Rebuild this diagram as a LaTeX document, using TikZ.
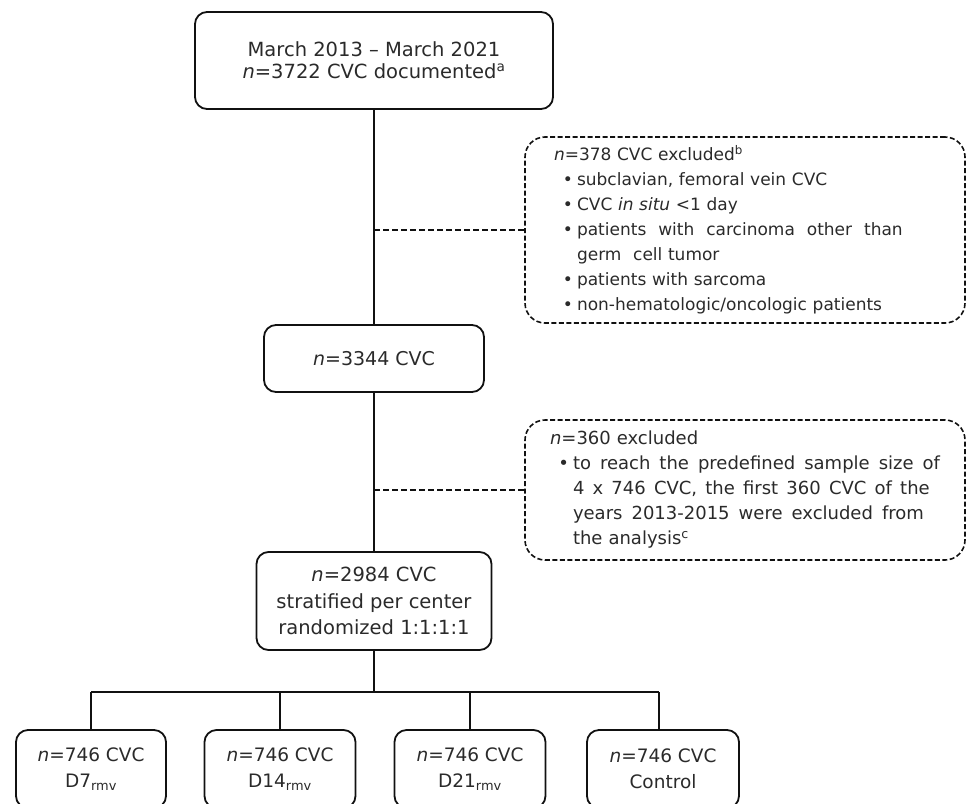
\documentclass[tikz,border=0pt]{standalone}
\usepackage{fontspec}
\setmainfont{DejaVu Sans}
\definecolor{linecol}{HTML}{111111}
\definecolor{txt}{HTML}{2a2a2a}
\newcommand{\bul}{\makebox[23pt][r]{\textbullet\hspace{4pt}}}
\newcommand{\nob}{\hspace*{23pt}}
\newcommand{\wsp}{\hspace{0pt plus 1fil}}
\begin{document}
\begin{tikzpicture}[x=1pt,y=-1pt,
  box/.style={draw=linecol, line width=1.8pt, rounded corners=12pt, align=center, text=txt,
    font=\fontsize{18.5}{26}\selectfont, inner sep=0pt},
  exbox/.style={draw=linecol, line width=1.6pt, dash pattern=on 5pt off 2.5pt, rounded corners=20pt,
    align=left, text=txt, font=\fontsize{17}{25}\selectfont, inner xsep=29pt, inner ysep=0pt,
    minimum width=440pt, text width=382pt},
  conn/.style={draw=linecol, line width=1.8pt},
  dconn/.style={conn, dash pattern=on 6pt off 3pt}]
\useasboundingbox (0,0) rectangle (973,803);

\node[box, minimum width=358pt, minimum height=97pt, font=\fontsize{19.5}{22}\selectfont] (top) at (374,60.5)
  {March 2013 – March 2021\\\textit{n}=3722 CVC documented\textsuperscript{a}};

\node[exbox, minimum height=186pt] (ex1) at (745,230)
  {\textit{n}=378 CVC excluded\textsuperscript{b}\\
   \bul subclavian, femoral vein CVC\\
   \bul CVC \textit{in situ} <1 day\\
   \bul \makebox[332pt][l]{patients \wsp with \wsp carcinoma \wsp other \wsp than}\\
   \nob germ\hspace{6pt} cell tumor\\
   \bul patients with sarcoma\\
   \bul non-hematologic/oncologic patients};

\node[box, minimum width=220pt, minimum height=67pt, font=\fontsize{19}{26}\selectfont] (b3344) at (374,358.5) {\textit{n}=3344 CVC};

\node[exbox, minimum height=140pt, font=\fontsize{18}{25}\selectfont, inner xsep=25pt, text width=390pt] (ex2) at (745,490)
  {\textit{n}=360 excluded\\
   \bul \makebox[370pt][l]{to \wsp reach \wsp the \wsp predefined \wsp sample \wsp size \wsp of}\\
   \nob \makebox[359pt][l]{4 \wsp x \wsp 746 \wsp CVC, \wsp the \wsp first \wsp 360 \wsp CVC \wsp of \wsp the}\\
   \nob \makebox[354pt][l]{years \wsp 2013-2015 \wsp were \wsp excluded \wsp from}\\
   \nob the analysis\textsuperscript{c}};

\node[box, minimum width=235pt, minimum height=98pt, font=\fontsize{19.5}{26.5}\selectfont] (b2984) at (374,601)
  {\textit{n}=2984 CVC\\stratified per center\\randomized 1:1:1:1};

\node[box, minimum width=150pt, minimum height=78pt] (d7) at (91,769) {\textit{n}=746 CVC\\D7\textsubscript{rmv}};
\node[box, minimum width=151pt, minimum height=78pt] (d14) at (280,769) {\textit{n}=746 CVC\\D14\textsubscript{rmv}};
\node[box, minimum width=151pt, minimum height=78pt] (d21) at (470,769) {\textit{n}=746 CVC\\D21\textsubscript{rmv}};
\node[box, minimum width=152pt, minimum height=78pt] (ctrl) at (663,769) {\textit{n}=746 CVC\\Control};

\coordinate (bus) at (374,692);
\coordinate (busL) at (91,692);
\coordinate (busR) at (659,692);
\draw[conn] (top.south) -- (b3344.north);
\draw[conn] (b3344.south) -- (b2984.north);
\draw[dconn] (ex1.west -| top.south) -- (ex1.west);
\draw[dconn] (ex2.west -| top.south) -- (ex2.west);
\draw[conn] (b2984.south) -- (bus);
\draw[conn] (busL) -- (busR);
\draw[conn] (busL) -- (d7.north);
\draw[conn] (bus -| d14.north) -- (d14.north);
\draw[conn] (bus -| d21.north) -- (d21.north);
\draw[conn] (busR) -- (busR |- ctrl.north);
\end{tikzpicture}
\end{document}
